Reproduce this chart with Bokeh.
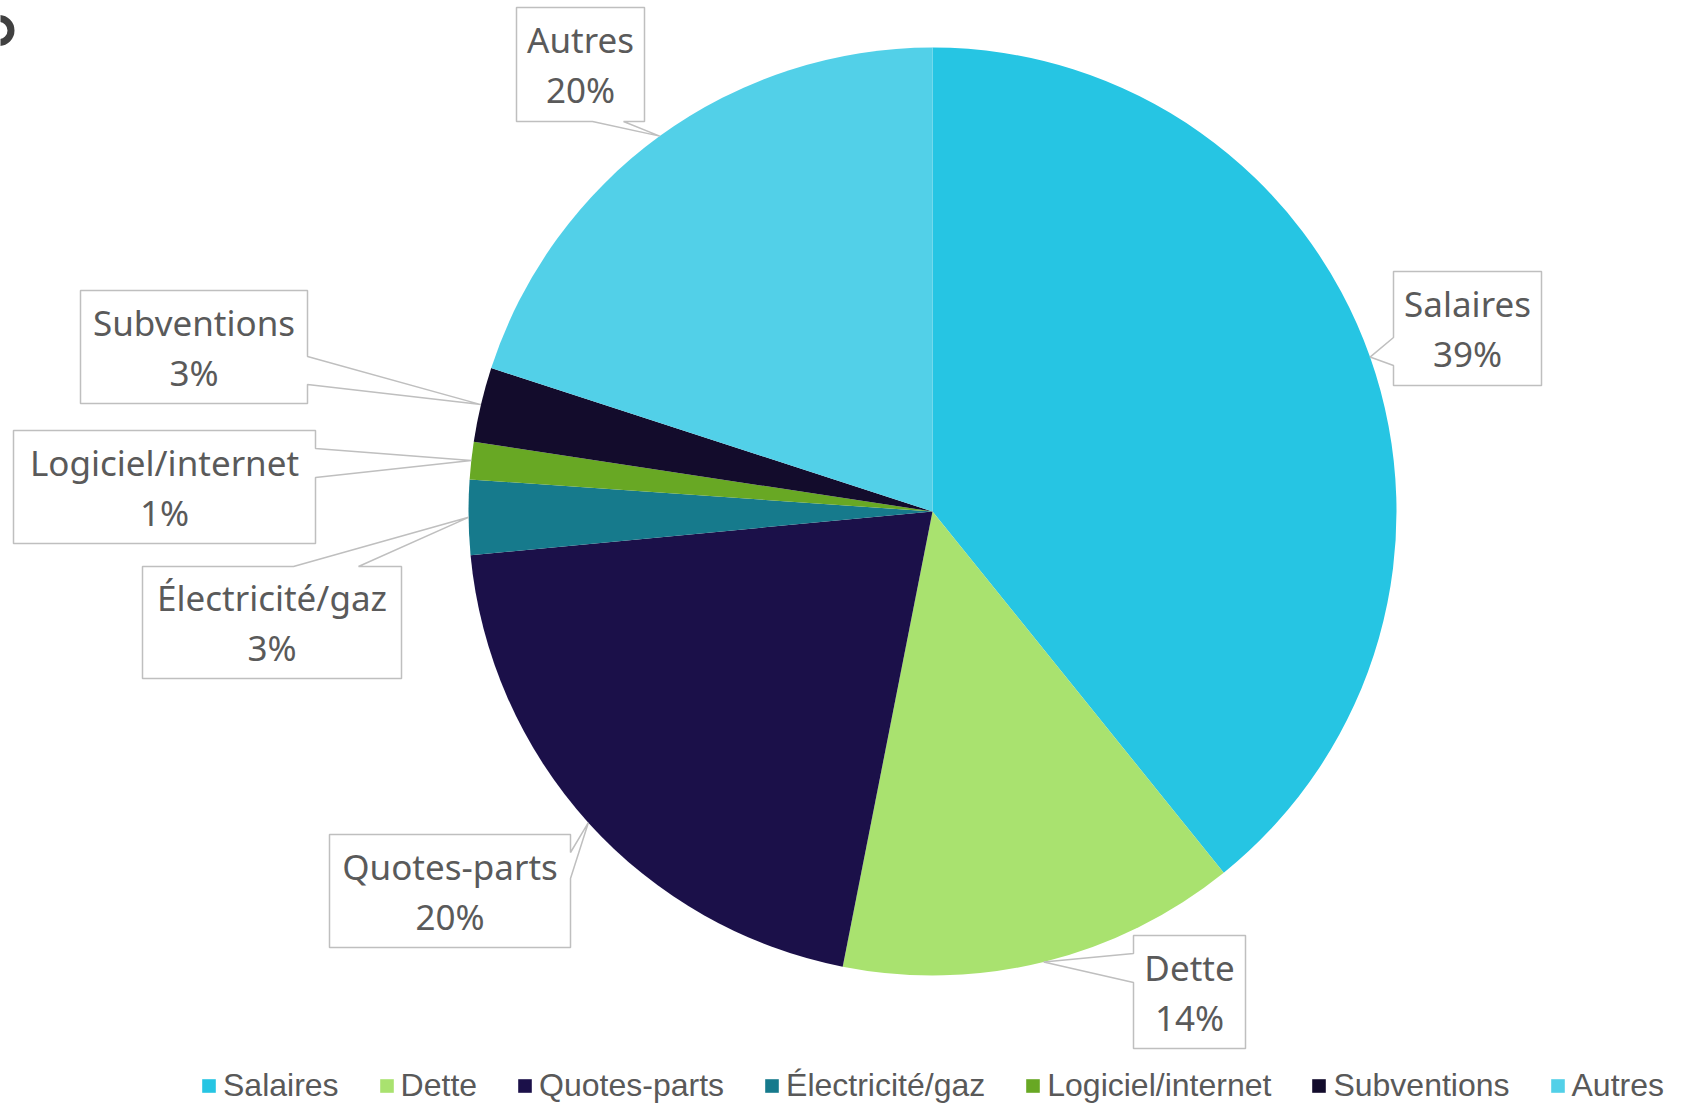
import numpy as np
from bokeh.plotting import figure
from bokeh.models import ColumnDataSource, Range1d
from bokeh.core.properties import value
from bokeh.embed import file_html
from bokeh.resources import INLINE

# ---- data ----
categories = ["Salaires", "Dette", "Quotes-parts", "Électricité/gaz",
              "Logiciel/internet", "Subventions", "Autres"]
shares = [39.2, 13.9, 20.4, 2.6, 1.3, 2.6, 20.0]
colors = ["#26C5E3", "#A9E26F", "#1B1049", "#167A8C", "#68A824", "#130C2C", "#52D0E8"]

# ---- layout (page pixel coordinates) ----
W, H = 1671, 1104
CX, CY, R = 932, 511, 464
# callout boxes: left, top, right, bottom, side of pointer, attach a1, attach a2
boxes = [
    (1393, 271, 1541, 385, "left", 337, 365),
    (1133, 935, 1245, 1048, "left", 953, 982),
    (329, 834, 570, 947, "right", 852, 878),
    (142, 566, 401, 678, "top", 293, 358),
    (13, 430, 315, 543, "right", 448, 477),
    (80, 290, 307, 403, "right", 356, 384),
    (516, 7, 644, 121, "bottom", 592, 623),
]


def Y(sy):
    return 1120 - sy


p = figure(width=W, height=H, x_range=Range1d(0, W), y_range=Range1d(1120 - H, 1120),
           output_backend="svg", toolbar_location=None, min_border=0)
p.axis.visible = False
p.grid.visible = False
p.outline_line_color = None
p.background_fill_color = "white"

vals = np.array(shares, dtype=float)
frac = vals / vals.sum()
cum = np.cumsum(frac)
start = np.concatenate([[0.0], cum[:-1]])
mid = (start + cum) / 2

src = ColumnDataSource(dict(
    cat=categories, color=colors,
    start=np.pi / 2 - 2 * np.pi * start,
    end=np.pi / 2 - 2 * np.pi * cum,
))
p.wedge(x=CX, y=Y(CY), radius=R, start_angle="start", end_angle="end",
        direction="clock", fill_color="color", line_color=None,
        legend_field="cat", source=src)

# callouts
xs, ys = [], []
name_x, name_y, pct_y, pcts = [], [], [], []
for i, (l, t, r, b, side, a1, a2) in enumerate(boxes):
    th = 2 * np.pi * mid[i]
    tx = CX + R * np.sin(th)
    ty = CY - R * np.cos(th)
    pts = [(l, t)]
    if side == "top":
        pts += [(a1, t), (tx, ty), (a2, t)]
    pts += [(r, t)]
    if side == "right":
        pts += [(r, a1), (tx, ty), (r, a2)]
    pts += [(r, b)]
    if side == "bottom":
        pts += [(a2, b), (tx, ty), (a1, b)]
    pts += [(l, b)]
    if side == "left":
        pts += [(l, a2), (tx, ty), (l, a1)]
    xs.append([q[0] for q in pts])
    ys.append([Y(q[1]) for q in pts])
    cx = (l + r) / 2
    cy = (t + b) / 2
    name_x.append(cx)
    name_y.append(Y(cy - 25))
    pct_y.append(Y(cy + 25))
    pcts.append(f"{round(shares[i])}%")

p.patches(xs, ys, fill_color="white", line_color="#BFBFBF", line_width=1.5)
p.text(x=name_x, y=name_y, text=categories, text_align="center", text_baseline="middle",
       text_font=value("Noto Sans"), text_font_size="35px", text_color="#5A5A5A")
p.text(x=name_x, y=pct_y, text=pcts, text_align="center", text_baseline="middle",
       text_font=value("Noto Sans"), text_font_size="35px", text_color="#5A5A5A")

# clipped remnant glyph at top-left
p.annulus(x=-1.5, y=Y(30), inner_radius=8.5, outer_radius=15.5,
          fill_color="#404040", line_color=None)

lg = p.legend[0]
lg.orientation = "horizontal"
lg.location = (200, 0)
lg.label_text_font = "Liberation Sans"
lg.label_text_font_size = "32px"
lg.label_text_color = "#595959"
lg.glyph_width = 17
lg.glyph_height = 17
lg.label_standoff = 6
lg.spacing = 39
lg.padding = 0
lg.margin = 0
lg.border_line_color = None
lg.background_fill_alpha = 0

open("out.html", "w").write(file_html(p, INLINE))
